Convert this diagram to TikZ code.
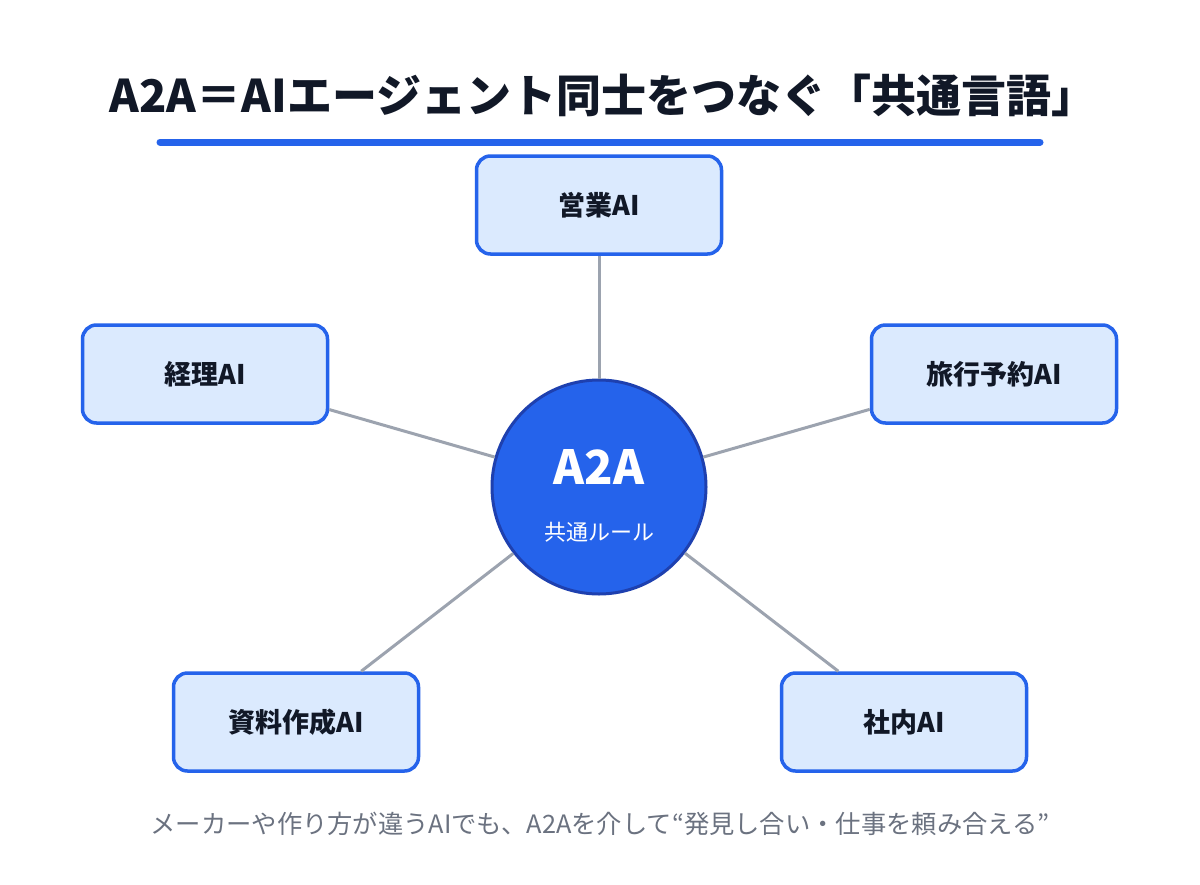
\documentclass[tikz,border=0pt]{standalone}
\usepackage{fontspec}
\setmainfont{Noto Sans CJK JP}
\definecolor{titlecol}{HTML}{111827}
\definecolor{accent}{HTML}{2563EB}
\definecolor{circborder}{HTML}{1E40AF}
\definecolor{boxfill}{HTML}{DBEAFE}
\definecolor{linkcol}{HTML}{9CA3AF}
\definecolor{captioncol}{HTML}{6B7280}
\tikzset{
  agent/.style={draw=accent, line width=3.5pt, fill=boxfill, rounded corners=14pt,
    minimum width=245pt, minimum height=98pt, inner sep=0pt,
    font=\fontsize{27}{32}\selectfont\bfseries, text=titlecol},
  hub/.style={circle, draw=circborder, line width=3pt, fill=accent, minimum size=214pt, inner sep=0pt},
  link/.style={draw=linkcol, line width=3pt}
}
\begin{document}
\begin{tikzpicture}[x=1pt,y=1pt]
\useasboundingbox (0,0) rectangle (1200,-884);
\fill[white] (0,0) rectangle (1200,-884);
\node[font=\fontsize{45}{52}\selectfont\bfseries, text=titlecol] (title) at (603,-95) {A2A＝AIエージェント同士をつなぐ「共通言語」};
\coordinate (ul1) at (160,-142);
\coordinate (ul2) at (1040,-142);
\draw[accent, line width=7pt, line cap=round] (ul1) -- (ul2);

\node[hub] (hub) at (599,-487) {};
\node[agent] (sales) at (599,-205) {営業AI};
\node[agent] (acct) at (205,-374) {経理AI};
\node[agent] (travel) at (994,-374) {旅行予約AI};
\node[agent] (docs) at (296,-722) {資料作成AI};
\node[agent] (internal) at (904,-722) {社内AI};

\path[link] (hub) -- (sales);
\path[link] (hub) -- (acct);
\path[link] (hub) -- (travel);
\path[link] (hub) -- (docs);
\path[link] (hub) -- (internal);
\node[font=\fontsize{47}{54}\selectfont\bfseries, text=white] (hubtitle) at (599,-467) {A2A};
\node[font=\fontsize{22}{26}\selectfont, text=white] (hubsub) at (599,-532) {共通ルール};

\node[font=\fontsize{25.3}{30}\selectfont, text=captioncol] (caption) at (600,-824) {メーカーや作り方が違うAIでも、A2Aを介して“発見し合い・仕事を頼み合える”};
\end{tikzpicture}
\end{document}
